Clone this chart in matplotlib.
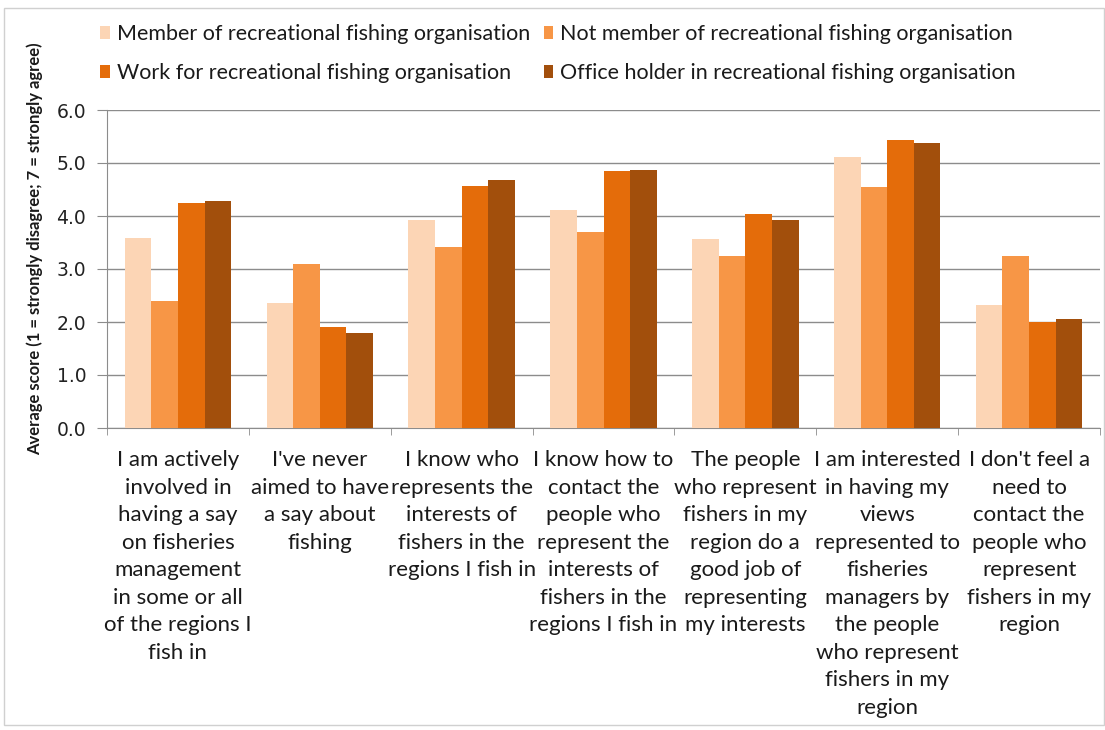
import numpy as np
import matplotlib
matplotlib.use("Agg")
import matplotlib.pyplot as plt
from matplotlib.patches import Rectangle, Patch

plt.rcParams['font.family'] = ['Lato', 'DejaVu Sans']

# statements (x categories), wrapped as they appear under the axis
statements = [
    "I am actively\ninvolved in\nhaving a say\non fisheries\nmanagement\nin some or all\nof the regions I\nfish in",
    "I've never\naimed to have\na say about\nfishing",
    "I know who\nrepresents the\ninterests of\nfishers in the\nregions I fish in",
    "I know how to\ncontact the\npeople who\nrepresent the\ninterests of\nfishers in the\nregions I fish in",
    "The people\nwho represent\nfishers in my\nregion do a\ngood job of\nrepresenting\nmy interests",
    "I am interested\nin having my\nviews\nrepresented to\nfisheries\nmanagers by\nthe people\nwho represent\nfishers in my\nregion",
    "I don't feel a\nneed to\ncontact the\npeople who\nrepresent\nfishers in my\nregion",
]

groups = ["Member of recreational fishing organisation",
          "Not member of recreational fishing organisation",
          "Work for recreational fishing organisation",
          "Office holder in recreational fishing organisation"]

member     = [3.58, 2.35, 3.92, 4.11, 3.56, 5.11, 2.32]
not_member = [2.40, 3.09, 3.41, 3.69, 3.25, 4.55, 3.24]
work_for   = [4.24, 1.90, 4.57, 4.84, 4.04, 5.43, 2.00]
office     = [4.28, 1.80, 4.67, 4.87, 3.92, 5.37, 2.06]

colors = ['#FCD5B5', '#F79646', '#E46C0A', '#A24F0C']

fig = plt.figure(figsize=(11.05, 7.3), dpi=100)
fig.patches.append(Rectangle((4 / 1105, 1 - 725 / 730), 1100 / 1105, 717 / 730,
                             transform=fig.transFigure, fill=False,
                             edgecolor='#d0d0d0', lw=1))
ax = fig.add_axes([107 / 1105, 1 - 428 / 730, 993 / 1105, 318 / 730])

x = np.arange(len(statements))
w = 0.75 / 4
for i, vals in enumerate([member, not_member, work_for, office]):
    ax.bar(x + (i - 1.5) * w, vals, width=w, color=colors[i], zorder=3)

ax.set_xlim(-0.5, len(statements) - 0.5)
ax.set_ylim(0, 6)
ax.set_yticks(np.arange(0, 6.1, 1))
ax.set_yticklabels([f"{v:.1f}" for v in np.arange(0, 6.1, 1)],
                   family='DejaVu Sans', fontsize=13.5, color='#222222')
ax.yaxis.grid(True, color='#8c8c8c', lw=1)
ax.set_axisbelow(True)

ax.set_xticks(x)
ax.set_xticklabels(statements, fontsize=16, color='#1a1a1a', linespacing=1.47)
ax.tick_params(axis='x', length=0, pad=16)
ax.set_xticks(np.arange(-0.5, len(statements), 1), minor=True)
ax.tick_params(axis='x', which='minor', length=5, color='#8c8c8c')
ax.tick_params(axis='y', length=7, color='#8c8c8c', pad=8)

for s in ['top', 'right']:
    ax.spines[s].set_visible(False)
for s in ['left', 'bottom']:
    ax.spines[s].set_color('#8c8c8c')

fig.text(35 / 1105, 1 - 249 / 730, "Average score (1 = strongly disagree; 7 = strongly agree)",
         rotation=90, ha='center', va='center', fontsize=12, weight='bold', color='#1a1a1a')

# legend: two rows, two columns
order = [0, 2, 1, 3]
handles = [Patch(facecolor=colors[i]) for i in order]
labels = [groups[i] for i in order]
fig.legend(handles, labels, ncol=2, loc='upper left',
           bbox_to_anchor=(81 / 1105, 1 - 5 / 730), frameon=False,
           fontsize=15.5, handlelength=0.45, handleheight=0.55, handletextpad=0.3,
           columnspacing=0.65, labelspacing=0.88, labelcolor='#1a1a1a')

fig.savefig("out.png", dpi=100)
